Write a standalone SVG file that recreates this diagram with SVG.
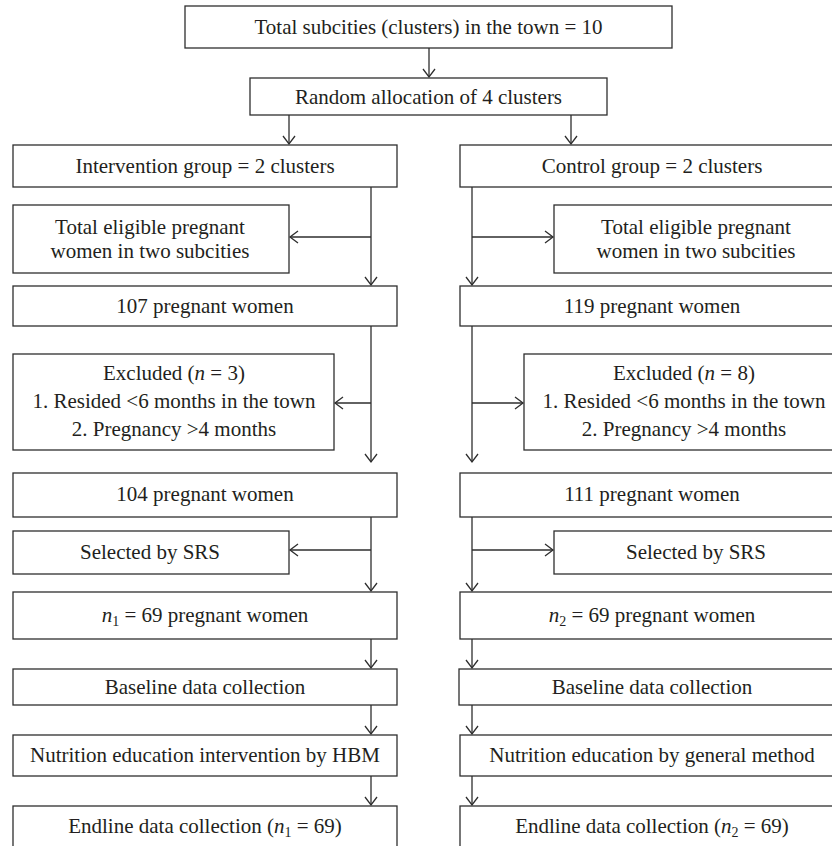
<svg xmlns="http://www.w3.org/2000/svg" width="832" height="846" viewBox="0 0 832 846">
<defs>
<style>
.box{fill:#fff;stroke:#2e2e2e;stroke-width:1.3}
.t{font-family:"Liberation Serif","Times New Roman",serif;font-size:21px;fill:#231f20;text-anchor:middle}
.c{fill:none;stroke:#2e2e2e;stroke-width:1.3}
.i{font-style:italic}
.s{font-size:14px}
</style>
<marker id="ah" markerWidth="14" markerHeight="14" refX="10" refY="7" orient="auto" markerUnits="userSpaceOnUse">
<path d="M2,1 L10,7 L2,13" fill="none" stroke="#2e2e2e" stroke-width="1.3"/>
</marker>
</defs>
<rect width="832" height="846" fill="#fff"/>

<g id="connectors">
<line class="c" x1="429" y1="48" x2="429" y2="77" marker-end="url(#ah)"/>
<line class="c" x1="289" y1="115" x2="289" y2="144" marker-end="url(#ah)"/>
<line class="c" x1="571" y1="115" x2="571" y2="144" marker-end="url(#ah)"/>
<!-- left -->
<line class="c" x1="371" y1="187" x2="371" y2="285" marker-end="url(#ah)"/>
<line class="c" x1="371" y1="237" x2="290" y2="237" marker-end="url(#ah)"/>
<line class="c" x1="371" y1="326" x2="371" y2="462" marker-end="url(#ah)"/>
<line class="c" x1="371" y1="403" x2="335" y2="403" marker-end="url(#ah)"/>
<line class="c" x1="371" y1="517" x2="371" y2="591" marker-end="url(#ah)"/>
<line class="c" x1="371" y1="550" x2="290" y2="550" marker-end="url(#ah)"/>
<line class="c" x1="371" y1="639" x2="371" y2="668" marker-end="url(#ah)"/>
<line class="c" x1="371" y1="705" x2="371" y2="734" marker-end="url(#ah)"/>
<line class="c" x1="371" y1="776" x2="371" y2="805" marker-end="url(#ah)"/>
<!-- right -->
<line class="c" x1="472" y1="187" x2="472" y2="285" marker-end="url(#ah)"/>
<line class="c" x1="472" y1="237" x2="553" y2="237" marker-end="url(#ah)"/>
<line class="c" x1="472" y1="326" x2="472" y2="462" marker-end="url(#ah)"/>
<line class="c" x1="472" y1="403" x2="523" y2="403" marker-end="url(#ah)"/>
<line class="c" x1="472" y1="517" x2="472" y2="591" marker-end="url(#ah)"/>
<line class="c" x1="472" y1="550" x2="553" y2="550" marker-end="url(#ah)"/>
<line class="c" x1="472" y1="639" x2="472" y2="668" marker-end="url(#ah)"/>
<line class="c" x1="472" y1="705" x2="472" y2="734" marker-end="url(#ah)"/>
<line class="c" x1="472" y1="776" x2="472" y2="805" marker-end="url(#ah)"/>
</g>

<g id="total"><rect class="box" x="185" y="6" width="487" height="42"/><text class="t" x="428.5" y="34">Total subcities (clusters) in the town = 10</text></g>
<g id="random"><rect class="box" x="250" y="78" width="357" height="37"/><text class="t" x="428.5" y="103.5">Random allocation of 4 clusters</text></g>

<g id="intervention"><rect class="box" x="13" y="145" width="384" height="42"/><text class="t" x="205" y="173">Intervention group = 2 clusters</text></g>
<g id="control"><rect class="box" x="460" y="145" width="384" height="42"/><text class="t" x="652" y="173">Control group = 2 clusters</text></g>

<g id="eligibleL"><rect class="box" x="13" y="205" width="276" height="68"/><text class="t" x="150" y="234">Total eligible pregnant</text><text class="t" x="150" y="258">women in two subcities</text></g>
<g id="eligibleR"><rect class="box" x="554" y="205" width="290" height="68"/><text class="t" x="696" y="234">Total eligible pregnant</text><text class="t" x="696" y="258">women in two subcities</text></g>

<g id="n107"><rect class="box" x="13" y="286" width="384" height="40"/><text class="t" x="205" y="312.5">107 pregnant women</text></g>
<g id="n119"><rect class="box" x="460" y="286" width="384" height="40"/><text class="t" x="652" y="312.5">119 pregnant women</text></g>

<g id="excludedL"><rect class="box" x="13" y="354" width="321" height="96"/>
<text class="t" x="174" y="380">Excluded (<tspan class="i">n</tspan> = 3)</text>
<text class="t" x="174" y="408">1. Resided &lt;6 months in the town</text>
<text class="t" x="174" y="436">2. Pregnancy &gt;4 months</text></g>
<g id="excludedR"><rect class="box" x="524" y="354" width="320" height="96"/>
<text class="t" x="684" y="380">Excluded (<tspan class="i">n</tspan> = 8)</text>
<text class="t" x="684" y="408">1. Resided &lt;6 months in the town</text>
<text class="t" x="684" y="436">2. Pregnancy &gt;4 months</text></g>

<g id="n104"><rect class="box" x="13" y="473" width="384" height="44"/><text class="t" x="205" y="500.5">104 pregnant women</text></g>
<g id="n111"><rect class="box" x="460" y="473" width="384" height="44"/><text class="t" x="652" y="500.5">111 pregnant women</text></g>

<g id="srsL"><rect class="box" x="13" y="531" width="276" height="43"/><text class="t" x="150" y="559">Selected by SRS</text></g>
<g id="srsR"><rect class="box" x="554" y="531" width="290" height="43"/><text class="t" x="696" y="559">Selected by SRS</text></g>

<g id="n1"><rect class="box" x="13" y="592" width="384" height="47"/><text class="t" x="205" y="622"><tspan class="i">n</tspan><tspan class="s" dy="4">1</tspan><tspan dy="-4"> = 69 pregnant women</tspan></text></g>
<g id="n2"><rect class="box" x="460" y="592" width="384" height="47"/><text class="t" x="652" y="622"><tspan class="i">n</tspan><tspan class="s" dy="4">2</tspan><tspan dy="-4"> = 69 pregnant women</tspan></text></g>

<g id="baselineL"><rect class="box" x="13" y="669" width="384" height="36"/><text class="t" x="205" y="693.5">Baseline data collection</text></g>
<g id="baselineR"><rect class="box" x="459" y="669" width="385" height="36"/><text class="t" x="652" y="693.5">Baseline data collection</text></g>

<g id="nutritionL"><rect class="box" x="13" y="735" width="384" height="41"/><text class="t" x="205" y="762">Nutrition education intervention by HBM</text></g>
<g id="nutritionR"><rect class="box" x="460" y="735" width="384" height="41"/><text class="t" x="652" y="762">Nutrition education by general method</text></g>

<g id="endlineL"><rect class="box" x="13" y="806" width="384" height="60"/><text class="t" x="205" y="833">Endline data collection (<tspan class="i">n</tspan><tspan class="s" dy="4">1</tspan><tspan dy="-4"> = 69)</tspan></text></g>
<g id="endlineR"><rect class="box" x="460" y="806" width="384" height="60"/><text class="t" x="652" y="833">Endline data collection (<tspan class="i">n</tspan><tspan class="s" dy="4">2</tspan><tspan dy="-4"> = 69)</tspan></text></g>
</svg>
